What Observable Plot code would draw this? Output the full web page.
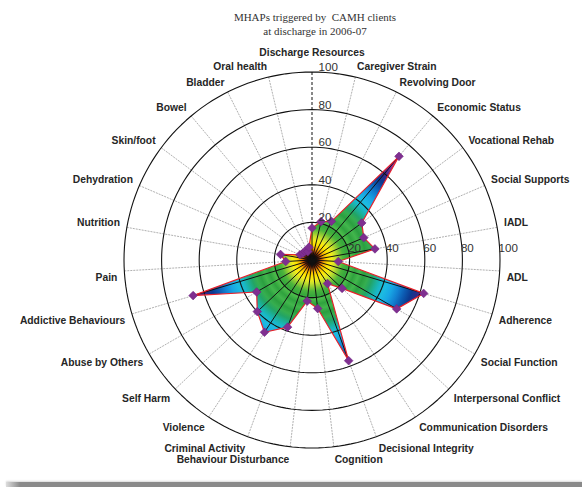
<!DOCTYPE html>
<html>
<head>
<meta charset="utf-8">
<script src="https://cdn.jsdelivr.net/npm/d3@7"></script>
<script src="https://cdn.jsdelivr.net/npm/@observablehq/plot@0.6"></script>
<style>
  html, body { margin: 0; padding: 0; background: #fff; overflow: hidden; }
  #wrap { position: relative; width: 582px; height: 487px; }
  #title { position: absolute; top: 10px; left: 0; width: 630px; text-align: center;
           font-family: "Liberation Serif", "Times New Roman", serif; font-size: 11px; line-height: 14px; color: #333; white-space: pre; }
  #bar { position: absolute; left: 6px; top: 482px; width: 576px; height: 5px;
         background: linear-gradient(to right, #ddd 0px, #8a8a8a 14px, #8a8a8a 100%);
         box-shadow: 0 -1px 2px rgba(0,0,0,0.15); }
  #chart svg { display: block; }
</style>
</head>
<body>
<div id="wrap">
  <div id="chart"></div>
  <div id="title">MHAPs triggered by  CAMH clients
at discharge in 2006-07</div>
  <div id="bar"></div>
</div>
<script>
// ---- data ----
const categories = [
  "Discharge Resources", "Caregiver Strain", "Revolving Door", "Economic Status",
  "Vocational Rehab", "Social Supports", "IADL", "ADL", "Adherence", "Social Function",
  "Interpersonal Conflict", "Communication Disorders", "Decisional Integrity", "Cognition",
  "Behaviour Disturbance", "Criminal Activity", "Violence", "Self Harm", "Abuse by Others",
  "Addictive Behaviours", "Pain", "Nutrition", "Dehydration", "Skin/foot", "Bowel",
  "Bladder", "Oral health"
];
const values = [
  17, 21, 23, 72,
  33, 30, 34, 14, 62, 52,
  22, 15, 57, 26,
  22, 38, 46, 40, 34,
  66, 14, 17, 7, 6, 6,
  5, 7
];
const ringValues = [20, 40, 60, 80, 100];
const tickLabels = ["20", "40", "60", "80", "100"];

// ---- geometry ----
const n = categories.length;
const W = 582, H = 487;
const cx = 311.5, cy = 259.5, pxPerUnit = 1.88;
const xDomain = [-cx / pxPerUnit, (W - cx) / pxPerUnit];
const yDomain = [-(H - cy) / pxPerUnit, cy / pxPerUnit];
const ang = i => i * 2 * Math.PI / n;

const rows = categories.map((c, i) => ({
  cat: c, v: values[i],
  x: values[i] * Math.sin(ang(i)), y: values[i] * Math.cos(ang(i))
}));
const spokes = categories.map((c, i) => ({
  i, x: 100 * Math.sin(ang(i)), y: 100 * Math.cos(ang(i))
}));
const rings = ringValues.flatMap(r => d3.range(0, 361, 2).map(d => ({
  r, x: r * Math.sin(d * Math.PI / 180), y: r * Math.cos(d * Math.PI / 180)
})));
const labelR = 195 / pxPerUnit;
const labels = categories.map((c, i) => {
  const a = ang(i) * 180 / Math.PI;
  const anchor = a === 0 ? "middle" : (a < 180 ? "start" : "end");
  let dy = (a < 90 || a > 270) ? -3.2 : 5.2;
  if (a === 0) dy = -12.5;
  if ((a > 85 && a < 95) || (a > 265 && a < 275)) dy = (a < 90 || a > 270) ? -2.6 : 6.2;
  if (a > 170 && a < 190) dy = 6.5;
  return {cat: c, x: labelR * Math.sin(ang(i)), y: labelR * Math.cos(ang(i)), anchor, dy};
});

const font = "'Liberation Sans', Arial, Helvetica, sans-serif";
const labelMarks = d3.groups(labels, d => d.anchor + "|" + d.dy).map(([key, arr]) =>
  Plot.text(arr, {
    x: "x", y: "y", text: "cat", textAnchor: arr[0].anchor, dy: arr[0].dy,
    lineAnchor: "middle",
    fontSize: 10.3, fontWeight: "bold", fontFamily: font, fill: "#262626"
  })
);

const plot = Plot.plot({
  width: W, height: H,
  margin: 0,
  x: {domain: xDomain, axis: null},
  y: {domain: yDomain, axis: null},
  style: {background: "transparent", overflow: "visible"},
  marks: [
    // light grey spokes
    Plot.link(spokes.filter(d => d.i !== 0), {
      x1: 0, y1: 0, x2: "x", y2: "y",
      stroke: "#858585", strokeWidth: 0.65, strokeDasharray: "2,1"
    }),
    // dashed black top spoke
    Plot.link(spokes.filter(d => d.i === 0), {
      x1: 0, y1: 0, x2: "x", y2: "y",
      stroke: "#111", strokeWidth: 1, strokeDasharray: "3,2"
    }),
    // gradient filled polygon
    Plot.line(rows, {x: "x", y: "y", curve: "linear-closed", fill: "url(#jetgrad)", stroke: "none"}),
    // black inner spokes
    Plot.link(rows, {x1: 0, y1: 0, x2: "x", y2: "y", stroke: "#111", strokeWidth: 1}),
    // rings
    Plot.line(rings, {x: "x", y: "y", z: "r", stroke: "#111", strokeWidth: 1.1}),
    // red outline
    Plot.line(rows, {x: "x", y: "y", curve: "linear-closed", stroke: "#e8202a", strokeWidth: 1.2, fill: "none"}),
    // diamonds
    Plot.dot(rows, {x: "x", y: "y", symbol: "diamond2", r: 3.9, fill: "#7f2f90", stroke: "#6e2583", strokeWidth: 0.6}),
    // radial tick labels, horizontal
    Plot.text(ringValues.map((v, k) => ({x: v, y: 0, t: tickLabels[k]})), {
      x: "x", y: "y", text: "t", textAnchor: "start", dx: -1.5, dy: -11.5,
      fontSize: 11.6, fontFamily: font, fill: "#333"
    }),
    // radial tick labels, vertical
    Plot.text(ringValues.map((v, k) => ({x: 0, y: v, t: tickLabels[k]})), {
      x: "x", y: "y", text: "t", textAnchor: "start", dx: 6.5, dy: -4.8,
      fontSize: 11.6, fontFamily: font, fill: "#333"
    }),
    ...labelMarks
  ]
});

// radial gradient in pixel space, derived from the plot's own scales
const xs = plot.scale("x"), ys = plot.scale("y");
const gcx = xs.apply(0), gcy = ys.apply(0), gr = xs.apply(100) - xs.apply(0);
const stops = [
  [0, "#000000"], [2.2, "#100300"], [3.6, "#6a1d00"], [5, "#d06000"], [6.5, "#f2b000"],
  [8.5, "#ffe400"], [10.5, "#f4ec1a"], [12.5, "#c8e02e"], [14.5, "#8cca34"], [16.5, "#4db43c"],
  [19, "#36a83c"], [21, "#4bbb4a"], [23.5, "#2fa23e"], [26, "#42b64c"], [28.5, "#2b9f40"],
  [31, "#36ae4f"], [33.5, "#22a466"], [36, "#1bb09a"], [38.5, "#19b8c8"], [41.5, "#1cbbe2"],
  [45, "#18a6e4"], [48.5, "#1282d2"], [52, "#0c5bb2"], [55.5, "#0b3a90"], [58.5, "#2a2b88"],
  [61.5, "#55298e"], [64.5, "#822e95"], [67.5, "#a5329a"], [71, "#c0379c"], [100, "#c0379c"]
];
const svg = d3.select(plot);
const defs = svg.insert("defs", ":first-child");
const g = defs.append("radialGradient")
  .attr("id", "jetgrad").attr("gradientUnits", "userSpaceOnUse")
  .attr("cx", gcx).attr("cy", gcy).attr("r", gr);
for (const [v, c] of stops) g.append("stop").attr("offset", v / 100).attr("stop-color", c);

document.getElementById("chart").appendChild(plot);
</script>
</body>
</html>
